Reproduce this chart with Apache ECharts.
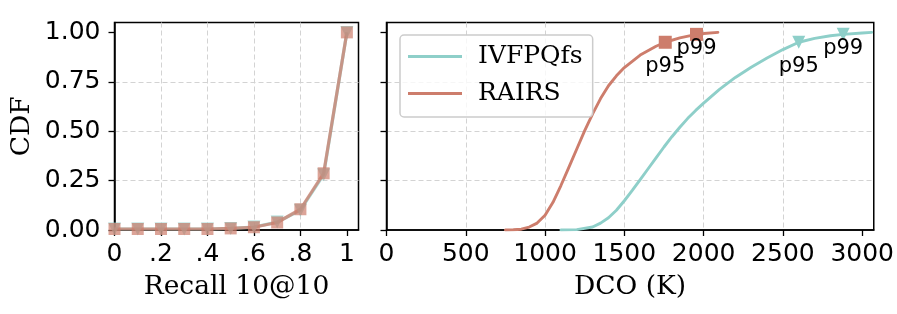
<!DOCTYPE html>
<html>
<head>
<meta charset="utf-8">
<script src="https://cdn.jsdelivr.net/npm/echarts@6/dist/echarts.min.js"></script>
<style>html,body{margin:0;padding:0;background:#fff;}#c{width:897px;height:314px;}</style>
</head>
<body>
<div id="c"></div>
<script>
// ---- data ----
const recallX = [0, 0.1, 0.2, 0.3, 0.4, 0.5, 0.6, 0.7, 0.8, 0.9, 1.0];
const recallIVF = [0.005, 0.005, 0.005, 0.005, 0.005, 0.008, 0.015, 0.04, 0.10, 0.28, 1.0];
const recallRAIRS = [0.005, 0.005, 0.005, 0.005, 0.005, 0.008, 0.014, 0.038, 0.105, 0.287, 1.0];
const recallTicks = [0, 0.2, 0.4, 0.6, 0.8, 1];
const recallTickLabels = ['0', '.2', '.4', '.6', '.8', '1'];
const cdfTicks = [0, 0.25, 0.5, 0.75, 1];
const cdfTickLabels = ['0.00', '0.25', '0.50', '0.75', '1.00'];
const dcoTicks = [0, 500, 1000, 1500, 2000, 2500, 3000];

const rairsDcoX = [750, 800, 850, 900, 950, 1000, 1050, 1100, 1150, 1200, 1250, 1300, 1350, 1400, 1450, 1500, 1600, 1700, 1758, 1850, 1955, 2000, 2090];
const rairsDcoY = [0.0, 0.001, 0.004, 0.015, 0.035, 0.075, 0.14, 0.225, 0.317, 0.41, 0.503, 0.588, 0.665, 0.73, 0.78, 0.822, 0.885, 0.93, 0.95, 0.972, 0.99, 0.994, 1.0];
const ivfDcoX = [1100, 1200, 1300, 1350, 1400, 1450, 1500, 1550, 1600, 1650, 1700, 1750, 1800, 1850, 1900, 1950, 2000, 2100, 2200, 2300, 2400, 2500, 2600, 2700, 2800, 2880, 3000, 3060];
const ivfDcoY = [0.0, 0.002, 0.015, 0.035, 0.062, 0.10, 0.148, 0.20, 0.255, 0.31, 0.365, 0.42, 0.472, 0.52, 0.565, 0.605, 0.642, 0.712, 0.772, 0.824, 0.87, 0.913, 0.95, 0.97, 0.983, 0.99, 0.997, 1.0];

const pctNames = ['p95', 'p99'];
const rairsPctX = [1758, 1955];
const rairsPctY = [0.95, 0.99];
const ivfPctX = [2600, 2880];
const ivfPctY = [0.95, 0.99];

// ---- styles ----
const TEAL = '#8ECFC9';
const SALMON = '#CD7D6C';
const SANS = 'DejaVu Sans';
const SERIF = 'DejaVu Serif';

const zip = (xs, ys) => xs.map((x, i) => [x, ys[i]]);

function mkXAxis(gridIndex, max, ticks, labels, name) {
  return {
    type: 'value', gridIndex, min: 0, max,
    name, nameLocation: 'middle', nameGap: 44,
    nameTextStyle: {fontFamily: SERIF, fontSize: 26.5, color: '#000'},
    axisLine: {show: true, lineStyle: {color: '#000', width: 1.5}},
    axisTick: {show: true, inside: false, length: 6, lineStyle: {color: '#000', width: 1.3}, customValues: ticks},
    axisLabel: {show: true, margin: 12, fontFamily: SANS, fontSize: 25, color: '#000', customValues: ticks,
      formatter: v => labels ? labels[ticks.indexOf(v)] : String(v)},
    splitLine: {show: true, showMinLine: false, showMaxLine: false, lineStyle: {color: '#d3d3d3', width: 1, type: [5, 3]}}
  };
}
function mkYAxis(gridIndex, showLabels, name) {
  return {
    type: 'value', gridIndex, min: 0, max: 1.05,
    name, nameLocation: 'middle', nameGap: 79, nameRotate: 90,
    nameTextStyle: {fontFamily: SERIF, fontSize: 26.5, color: '#000'},
    axisLine: {show: true, lineStyle: {color: '#000', width: 1.5}},
    axisTick: {show: true, inside: false, length: 6, lineStyle: {color: '#000', width: 1.3}, customValues: cdfTicks},
    axisLabel: {show: showLabels, margin: 14, fontFamily: SANS, fontSize: 25, color: '#000', customValues: cdfTicks,
      formatter: v => cdfTickLabels[cdfTicks.indexOf(v)]},
    splitLine: {show: true, showMinLine: false, showMaxLine: false, lineStyle: {color: '#d3d3d3', width: 1, type: [5, 3]}}
  };
}

function pctSeries(name, color, symbol, rotate, xs, ys) {
  return {
    name, type: 'scatter', xAxisIndex: 1, yAxisIndex: 1, z: 5,
    symbol, symbolRotate: rotate, symbolSize: 13,
    itemStyle: {color, opacity: 1},
    label: {show: true, position: 'inside', formatter: '{b}', fontFamily: SANS, fontSize: 21, color: '#000'},
    data: xs.map((x, i) => ({name: pctNames[i], value: [x, ys[i]], label: {offset: [0, i === 0 ? 24 : 14]}}))
  };
}

const chart = echarts.init(document.getElementById('c'), null, {renderer: 'canvas'});
chart.setOption({
  animation: false,
  backgroundColor: '#fff',
  grid: [
    {left: 114.5, top: 22.5, width: 244, height: 207.5, show: true, borderColor: '#000', borderWidth: 1.5, backgroundColor: 'transparent'},
    {left: 386.5, top: 22.5, width: 489.5, height: 207.5, show: true, borderColor: '#000', borderWidth: 1.5, backgroundColor: 'transparent'}
  ],
  xAxis: [
    mkXAxis(0, 1.05, recallTicks, recallTickLabels, 'Recall 10@10'),
    mkXAxis(1, 3073, dcoTicks, null, 'DCO (K)')
  ],
  yAxis: [
    mkYAxis(0, true, 'CDF'),
    mkYAxis(1, false, '')
  ],
  legend: {
    left: 400, top: 35, orient: 'vertical',
    data: [{name: 'IVFPQfs', icon: 'rect'}, {name: 'RAIRS', icon: 'rect'}],
    itemWidth: 54, itemHeight: 3, itemGap: 10,
    padding: [8, 10, 10, 8],
    textStyle: {fontFamily: SERIF, fontSize: 25, color: '#000', padding: [0, 0, 0, 11], lineHeight: 27},
    borderColor: '#cccccc', borderWidth: 1.5, borderRadius: 4,
    backgroundColor: 'rgba(255,255,255,0.8)'
  },
  series: [
    {name: 'IVFPQfs', type: 'line', xAxisIndex: 1, yAxisIndex: 1, symbol: 'none', smooth: false,
      itemStyle: {color: TEAL}, lineStyle: {color: TEAL, width: 2.9, join: 'round', cap: 'round'}, data: zip(ivfDcoX, ivfDcoY)},
    {name: 'RAIRS', type: 'line', xAxisIndex: 1, yAxisIndex: 1, symbol: 'none', smooth: false,
      itemStyle: {color: SALMON}, lineStyle: {color: SALMON, width: 2.9, join: 'round', cap: 'round'}, data: zip(rairsDcoX, rairsDcoY)},
    {name: 'IVFPQfs', type: 'line', xAxisIndex: 0, yAxisIndex: 0, symbol: 'triangle', symbolRotate: 180, symbolSize: 13,
      showAllSymbol: true, itemStyle: {color: TEAL, opacity: 0.75}, lineStyle: {color: TEAL, width: 3.2, opacity: 0.75},
      data: zip(recallX, recallIVF)},
    {name: 'RAIRS', type: 'line', xAxisIndex: 0, yAxisIndex: 0, symbol: 'rect', symbolSize: 12,
      showAllSymbol: true, itemStyle: {color: SALMON, opacity: 0.7}, lineStyle: {color: SALMON, width: 3.2, opacity: 0.75},
      data: zip(recallX, recallRAIRS)},
    pctSeries('IVFPQfs pct', TEAL, 'triangle', 180, ivfPctX, ivfPctY),
    pctSeries('RAIRS pct', SALMON, 'rect', 0, rairsPctX, rairsPctY)
  ]
});
</script>
</body>
</html>
